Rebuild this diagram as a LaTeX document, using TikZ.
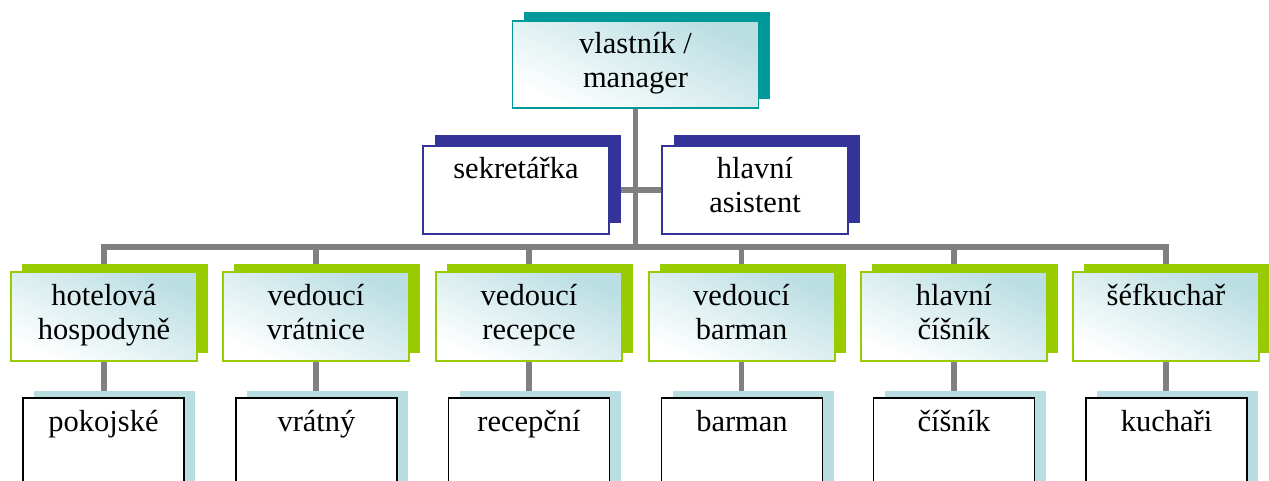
\documentclass[tikz,border=0pt]{standalone}
\usepackage{fontspec}
\setmainfont{Liberation Serif}
\usetikzlibrary{shadows,backgrounds}
\definecolor{tealc}{HTML}{009999}
\definecolor{navyc}{HTML}{333399}
\definecolor{greenc}{HTML}{99CC00}
\definecolor{paleblue}{HTML}{B8DEE1}
\definecolor{tintc}{HTML}{BADEE2}
\definecolor{linec}{HTML}{808080}
\newcommand{\boxtext}[3]{\parbox[c][#2][t]{#1}{\centering\rule{0pt}{33pt}#3}}
\begin{document}
\begin{tikzpicture}[x=1pt,y=-1pt,
  every node/.style={inner sep=0pt, outer sep=0pt, font=\fontsize{30.5pt}{34pt}\selectfont},
  tint/.style={top color=tintc, middle color=white, bottom color=white, shading angle=-25},
  topbox/.style={draw=tealc, line width=1.5pt, tint,
    copy shadow={shadow xshift=11pt, shadow yshift=9pt, fill=tealc, draw=none, opacity=1}},
  navybox/.style={draw=navyc, line width=1.3pt, fill=white,
    copy shadow={shadow xshift=12pt, shadow yshift=11pt, fill=navyc, draw=none, opacity=1}},
  greenbox/.style={draw=greenc, line width=2pt, tint,
    copy shadow={shadow xshift=11pt, shadow yshift=8pt, fill=greenc, draw=none, opacity=1}},
  bluebox/.style={draw=black, line width=1.8pt, fill=white,
    copy shadow={shadow xshift=11pt, shadow yshift=7pt, fill=paleblue, draw=none, opacity=1}},
  conn/.style={draw=linec, line width=5.5pt, line join=miter}
]
\useasboundingbox (0,0) rectangle (1269,481);
\coordinate (bus) at (0,247);

\node[topbox] (top) at (635.5,64.5) {\boxtext{246pt}{87pt}{vlastník /\\manager}};

\node[navybox] (sek) at (516,190) {\boxtext{186pt}{88pt}{sekretářka}};
\node[navybox] (asis) at (755,190) {\boxtext{186pt}{88pt}{hlavní\\asistent}};

\node[greenbox] (h1) at (104,316.5) {\boxtext{186pt}{89pt}{hotelová\\hospodyně}};
\node[greenbox] (h2) at (316,316.5) {\boxtext{186pt}{89pt}{vedoucí\\vrátnice}};
\node[greenbox] (h3) at (529,316.5) {\boxtext{186pt}{89pt}{vedoucí\\recepce}};
\node[greenbox] (h4) at (741.5,316.5) {\boxtext{186pt}{89pt}{vedoucí\\barman}};
\node[greenbox] (h5) at (954,316.5) {\boxtext{186pt}{89pt}{hlavní\\číšník}};
\node[greenbox] (h6) at (1166,316.5) {\boxtext{186pt}{89pt}{šéfkuchař}};

\node[bluebox] (b1) at (103.5,448) {\boxtext{161pt}{100pt}{pokojské}};
\node[bluebox] (b2) at (316.5,448) {\boxtext{161pt}{100pt}{vrátný}};
\node[bluebox] (b3) at (529,448) {\boxtext{161pt}{100pt}{recepční}};
\node[bluebox] (b4) at (742,448) {\boxtext{161pt}{100pt}{barman}};
\node[bluebox] (b5) at (954,448) {\boxtext{161pt}{100pt}{číšník}};
\node[bluebox] (b6) at (1166.5,448) {\boxtext{161pt}{100pt}{kuchaři}};

\begin{scope}[on background layer]
\fill[white] (0,0) rectangle (1269,481);
\draw[conn] (top.south) -- (top.south |- bus);
\draw[conn] (sek.east) -- (asis.west);
\draw[conn] (h1.north) -- (h1.north |- bus) -- (h6.north |- bus) -- (h6.north);
\foreach \i in {2,...,5} \draw[conn] (h\i.north) -- (h\i.north |- bus);
\foreach \i in {1,...,6} \draw[conn] (h\i.south) -- (h\i.south |- b\i.north);
\end{scope}
\end{tikzpicture}
\end{document}
